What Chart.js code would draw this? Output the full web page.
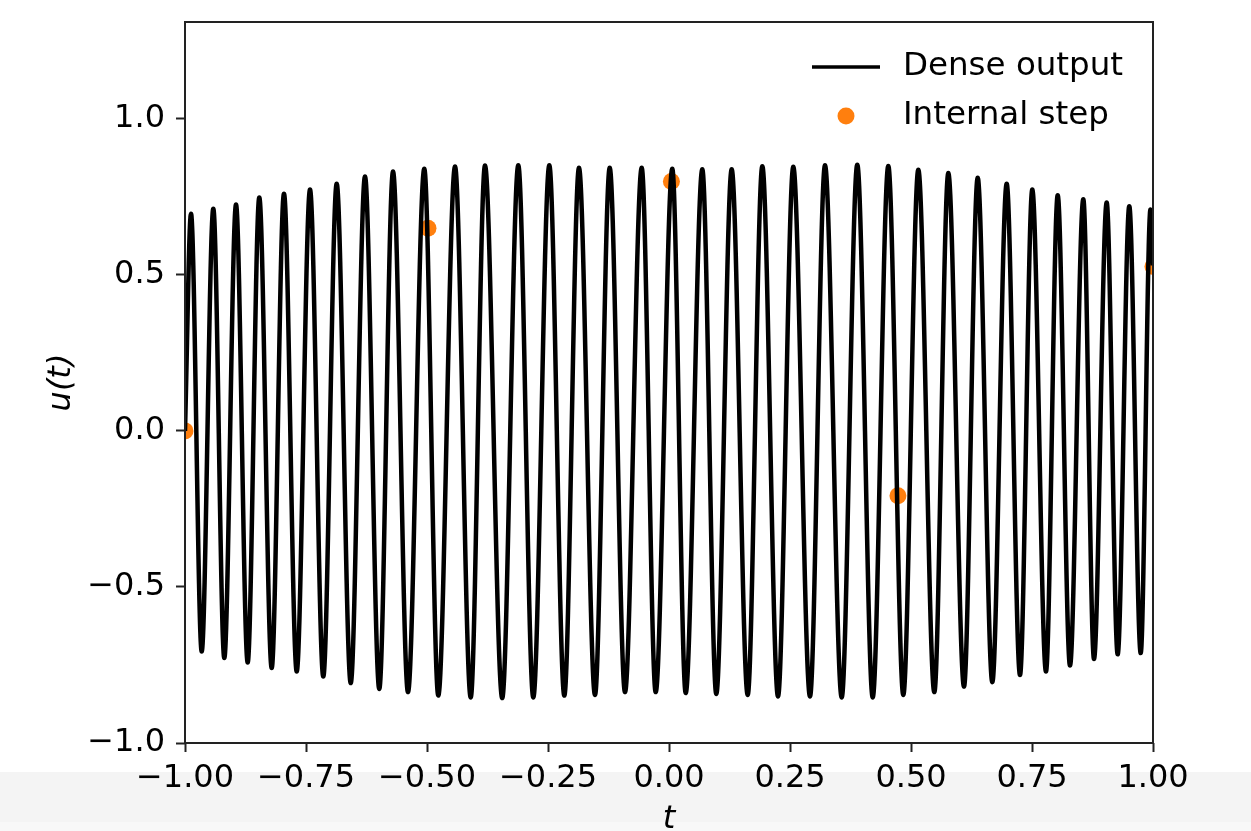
<!DOCTYPE html>
<html lang="en">
<head>
<meta charset="UTF-8">
<title>Dense output vs internal steps</title>
<script src="https://cdn.jsdelivr.net/npm/chart.js@4"></script>
<style>
  html, body { margin: 0; padding: 0; background: #fff; }
  canvas { display: block; }
</style>
</head>
<body>
<canvas id="chart" width="1251" height="831"></canvas>
<script>
// dense output: extrema (t, u)
const denseT = [
  -1.0, -0.9876, -0.9655, -0.9415, -0.9188, -0.8946, -0.8705, -0.8465, -0.8209, -0.7955,
  -0.7692, -0.7417, -0.7143, -0.6866, -0.6576, -0.6281, -0.5986, -0.5702, -0.5393, -0.5056,
  -0.4767, -0.4421, -0.4097, -0.3802, -0.3446, -0.3114, -0.2804, -0.2473, -0.2163, -0.1860,
  -0.1529, -0.1225, -0.0909, -0.0564, -0.0275, 0.0068, 0.0345, 0.0688, 0.0977, 0.1295,
  0.1626, 0.1928, 0.2252, 0.2568, 0.2913, 0.3223, 0.3568, 0.3890, 0.4209, 0.4531,
  0.4841, 0.5151, 0.5482, 0.5771, 0.6095, 0.6378, 0.6680, 0.6977, 0.7252, 0.7506,
  0.7789, 0.8031, 0.8285, 0.8560, 0.8781, 0.9043, 0.9270, 0.9510, 0.9746, 0.9948, 1.0
]
const denseU = [
  0.0, 0.696, -0.707, 0.712, -0.728, 0.725, -0.742, 0.748, -0.760, 0.760,
  -0.771, 0.773, -0.787, 0.792, -0.808, 0.815, -0.827, 0.831, -0.837, 0.840,
  -0.848, 0.847, -0.854, 0.850, -0.856, 0.851, -0.854, 0.851, -0.848, 0.843,
  -0.846, 0.843, -0.837, 0.843, -0.837, 0.840, -0.840, 0.838, -0.843, 0.838,
  -0.846, 0.848, -0.851, 0.846, -0.851, 0.851, -0.854, 0.853, -0.854, 0.849,
  -0.846, 0.837, -0.837, 0.826, -0.819, 0.811, -0.805, 0.792, -0.782, 0.773,
  -0.771, 0.755, -0.752, 0.742, -0.731, 0.732, -0.716, 0.720, -0.712, 0.709, 0.53
]

// internal solver steps
const stepT = [-1.0, -0.498, 0.005, 0.473, 1.0]
const stepU = [0.0, 0.649, 0.799, -0.208, 0.527]

const xTicks = [-1, -0.75, -0.5, -0.25, 0, 0.25, 0.5, 0.75, 1]
const yTicks = [-1, -0.5, 0, 0.5, 1]

const FONT = "'DejaVu Sans', 'Liberation Sans', sans-serif"
const INK = "#222"

const fmt = (v, d) => (v < 0 ? "\u2212" : "") + Math.abs(v).toFixed(d)

// axes frame on top of the lines, like matplotlib spines
const frame = {
  id: "frame",
  afterDatasetsDraw(chart) {
    const { ctx, chartArea: a } = chart
    ctx.save()
    ctx.strokeStyle = INK
    ctx.lineWidth = 2
    ctx.strokeRect(a.left, a.top, a.right - a.left, a.bottom - a.top)
    ctx.restore()
  },
}

// light grey strip at the bottom of the screenshot
const strip = {
  id: "strip",
  beforeDraw(chart) {
    const { ctx, width, height } = chart
    ctx.save()
    ctx.fillStyle = "#f4f4f4"
    ctx.fillRect(0, 772, width, height - 772)
    ctx.fillStyle = "#f8f8f8"
    ctx.fillRect(0, 822, width, height - 822)
    ctx.restore()
  },
}

// matplotlib style legend without a box
const legendBox = {
  id: "legendBox",
  afterDraw(chart) {
    const { ctx, chartArea: a } = chart
    const x0 = a.right - 341
    const y1 = a.top + 45
    const y2 = a.top + 94
    ctx.save()
    ctx.strokeStyle = "#000"
    ctx.lineWidth = 3.5
    ctx.beginPath()
    ctx.moveTo(x0, y1)
    ctx.lineTo(x0 + 68, y1)
    ctx.stroke()
    ctx.fillStyle = "#ff7f0e"
    ctx.beginPath()
    ctx.arc(x0 + 34, y2, 8.5, 0, Math.PI * 2)
    ctx.fill()
    ctx.fillStyle = "#000"
    ctx.font = "32.5px " + FONT
    ctx.textBaseline = "middle"
    ctx.fillText("Dense output", x0 + 91, y1)
    ctx.fillText("Internal step", x0 + 91, y2)
    ctx.restore()
  },
}

const ctx = document.getElementById("chart").getContext("2d")
new Chart(ctx, {
  data: {
    datasets: [
      {
        type: "line",
        label: "Dense output",
        data: denseT.map((t, i) => ({ x: t, y: denseU[i] })),
        borderColor: "#000",
        borderWidth: 4.5,
        pointRadius: 0,
        cubicInterpolationMode: "monotone",
        fill: false,
        clip: 0,
      },
      {
        type: "scatter",
        label: "Internal step",
        data: stepT.map((t, i) => ({ x: t, y: stepU[i] })),
        backgroundColor: "#ff7f0e",
        borderWidth: 0,
        pointRadius: 8.5,
        clip: 0,
      },
    ],
  },
  options: {
    responsive: false,
    animation: false,
    layout: { padding: { left: 0, top: 22, right: 98, bottom: 0 } },
    plugins: { legend: { display: false }, tooltip: { enabled: false } },
    scales: {
      x: {
        type: "linear",
        position: "bottom",
        min: -1,
        max: 1,
        afterBuildTicks: (s) => { s.ticks = xTicks.map((v) => ({ value: v })) },
        afterFit: (s) => { s.height = 88 },
        grid: { drawOnChartArea: false, drawTicks: true, tickLength: 9, tickColor: INK, tickWidth: 2 },
        border: { display: false },
        ticks: {
          color: "#000",
          padding: 7,
          maxRotation: 0,
          autoSkip: false,
          font: { family: FONT, size: 32 },
          callback: (v) => fmt(v, 2),
        },
        title: {
          display: true,
          text: "t",
          color: "#000",
          padding: { bottom: -8 },
          font: { family: FONT, size: 32, style: "italic" },
        },
      },
      y: {
        type: "linear",
        min: -1,
        max: 1.31,
        afterBuildTicks: (s) => { s.ticks = yTicks.map((v) => ({ value: v })) },
        afterFit: (s) => {
          s.width = 185
          s.paddingTop = 0
          s.paddingBottom = 0
        },
        grid: { drawOnChartArea: false, drawTicks: true, tickLength: 9, tickColor: INK, tickWidth: 2 },
        border: { display: false },
        ticks: {
          color: "#000",
          padding: 11,
          autoSkip: false,
          font: { family: FONT, size: 32 },
          callback: (v) => fmt(v, 1),
        },
        title: {
          display: true,
          text: "u(t)",
          color: "#000",
          padding: { top: 42 },
          font: { family: FONT, size: 32, style: "italic" },
        },
      },
    },
  },
  plugins: [strip, frame, legendBox],
})
</script>
</body>
</html>
